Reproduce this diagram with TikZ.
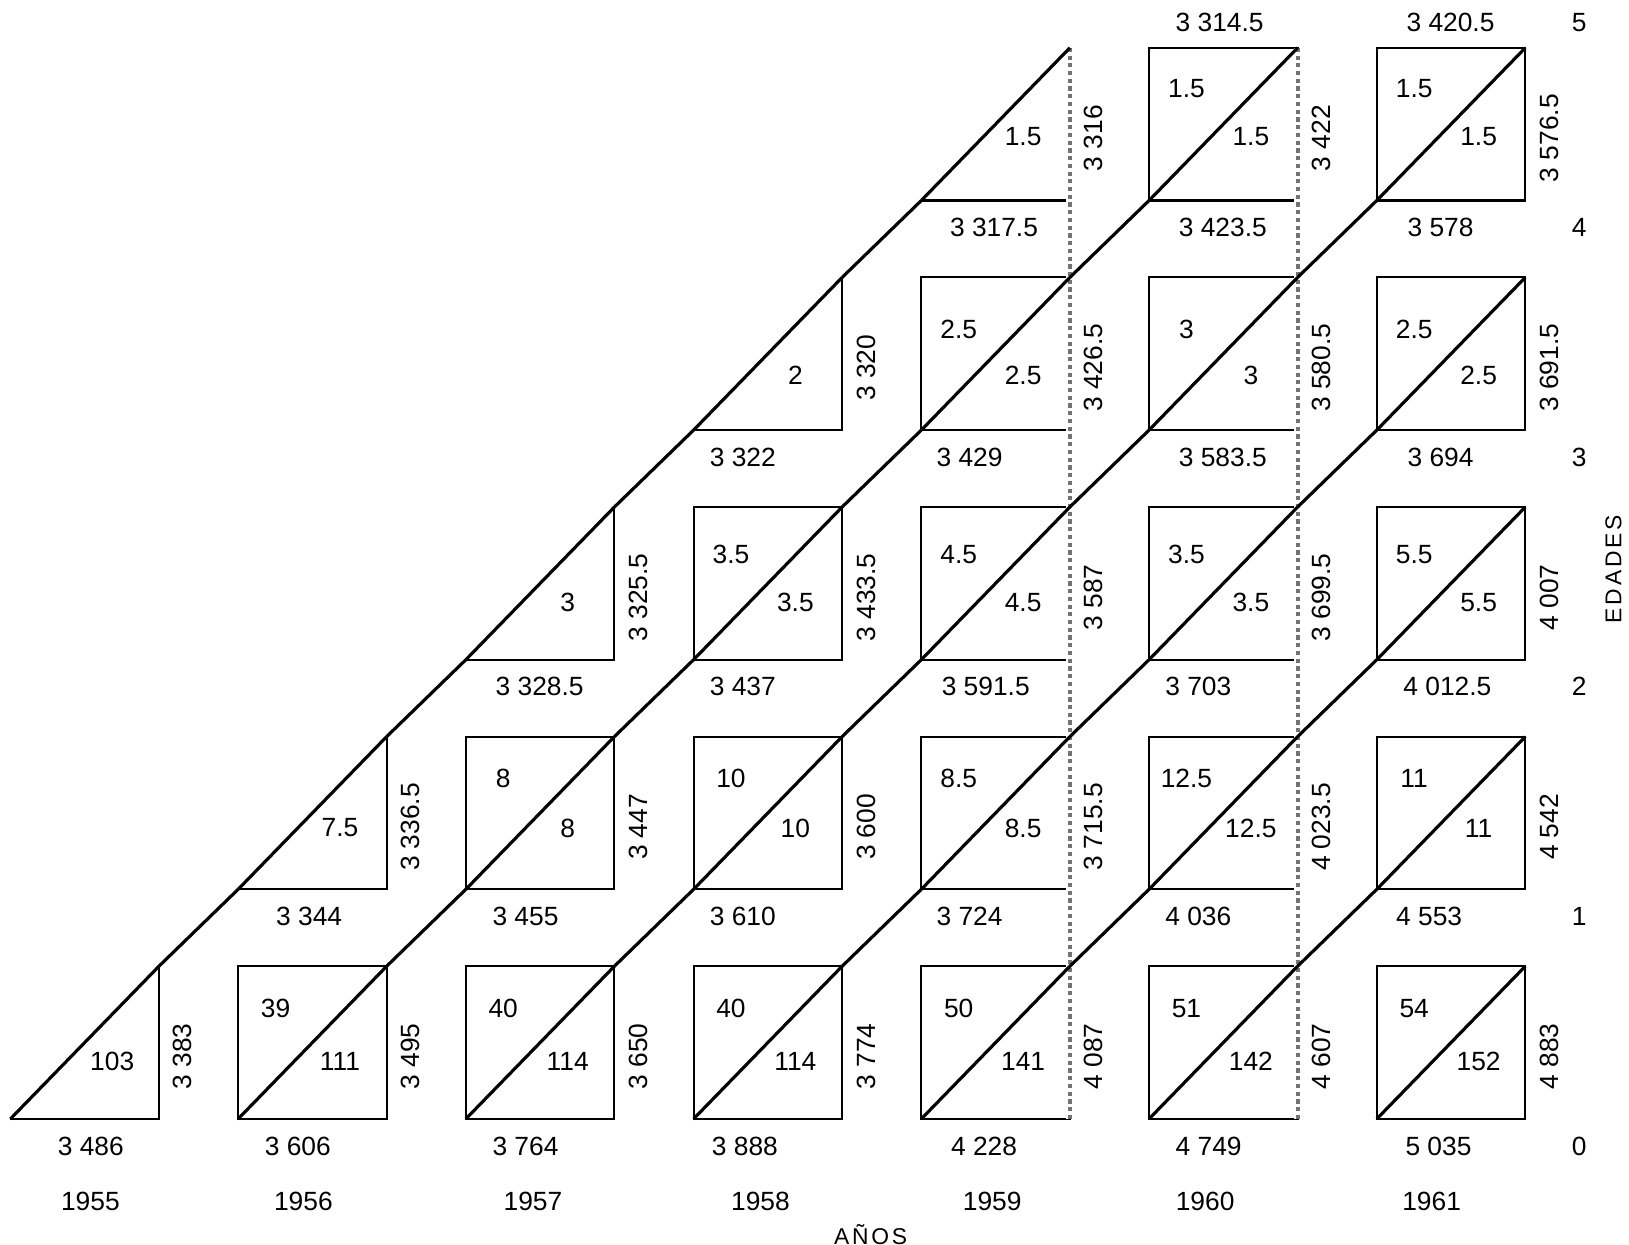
\documentclass[tikz,border=0pt]{standalone}
\usepackage{fontspec}
\setmainfont{Liberation Sans}
\newfontfamily\capsfont[LetterSpace=12]{Liberation Sans}
\usetikzlibrary{calc}

\begin{document}
\begin{tikzpicture}[
    x=0.10389mm, y=-0.10389mm,
    cell/.style={draw=black, line width=0.6pt},
    diag/.style={draw=black, line width=0.9pt},
    sep/.style={draw=black!55, densely dotted, line width=1.2pt},
    num/.style={font=\fontsize{7.5}{9}\selectfont, inner sep=0pt},
    sidenum/.style={num, rotate=90},
    axislbl/.style={font=\capsfont\fontsize{6.5}{7}\selectfont, inner sep=0pt},
  ]
  \useasboundingbox (0,0) rectangle (1568,1198);

  % Cells: triangles on the first diagonal, squares to the right of it
  \foreach \j in {0,...,4}{
    \foreach \i in {\j,...,6}{
      \pgfmathsetmacro\L{10+219.2*\i}
      \pgfmathsetmacro\R{\L+143}
      \pgfmathsetmacro\B{1077-221*\j}
      \pgfmathsetmacro\T{\B-147}
      \ifnum\i=\j
        \draw[cell] (\L,\B) -- (\R,\B) -- (\R,\T);
      \else
        \draw[cell] (\L,\B) rectangle (\R,\T);
      \fi
    }
  }

  % Dotted year separators
  \foreach \i in {4,5}{
    \pgfmathsetmacro\R{10+219.2*\i+143}
    \draw[white, line width=2pt] (\R,46) -- (\R,1077);
    \draw[sep] (\R,46) -- (\R,1077);
  }

  % Life lines
  \foreach \j in {0,...,4}{
    \foreach \i in {\j,...,6}{
      \pgfmathsetmacro\L{10+219.2*\i}
      \pgfmathsetmacro\R{\L+143}
      \pgfmathsetmacro\B{1077-221*\j}
      \pgfmathsetmacro\T{\B-147}
      \draw[diag] (\L,\B) -- (\R,\T);
      \ifnum\i<6 \ifnum\j<4
        \draw[diag] (\R,\T) -- ({\L+219.2},{\B-221});
      \fi\fi
    }
  }

  % Upper-left values
  \foreach \i/\j/\t in {1/0/39, 2/0/40, 3/0/40, 4/0/50, 5/0/51, 6/0/54,
      2/1/8, 3/1/10, 4/1/8.5, 5/1/12.5, 6/1/11,
      3/2/3.5, 4/2/4.5, 5/2/3.5, 6/2/5.5,
      4/3/2.5, 5/3/3, 6/3/2.5,
      5/4/1.5, 6/4/1.5}{
    \pgfmathsetmacro\dy{{41,40,46,50,39}[\j]}
    \node[num] (ul-\i-\j) at ({10+219.2*\i+36},{1077-221*\j-147+\dy}) {\t};
  }

  % Lower-right values
  \foreach \i/\j/\t in {0/0/103, 1/0/111, 2/0/114, 3/0/114, 4/0/141, 5/0/142, 6/0/152,
      1/1/7.5, 2/1/8, 3/1/10, 4/1/8.5, 5/1/12.5, 6/1/11,
      2/2/3, 3/2/3.5, 4/2/4.5, 5/2/3.5, 6/2/5.5,
      3/3/2, 4/3/2.5, 5/3/3, 6/3/2.5,
      4/4/1.5, 5/4/1.5, 6/4/1.5}{
    \pgfmathsetmacro\dy{{55,59,55,53,62}[\j]}
    \node[num] (lr-\i-\j) at ({10+219.2*\i+143-45},{1077-221*\j-\dy}) {\t};
  }

  % Totals on the right-hand side of the cells
  \foreach \i/\j/\t in {0/0/3 383, 1/0/3 495, 2/0/3 650, 3/0/3 774, 4/0/4 087, 5/0/4 607, 6/0/4 883,
      1/1/3 336.5, 2/1/3 447, 3/1/3 600, 4/1/3 715.5, 5/1/4 023.5, 6/1/4 542,
      2/2/3 325.5, 3/2/3 433.5, 4/2/3 587, 5/2/3 699.5, 6/2/4 007,
      3/3/3 320, 4/3/3 426.5, 5/3/3 580.5, 6/3/3 691.5,
      4/4/3 316, 5/4/3 422, 6/4/3 576.5}
    \node[sidenum] (sd-\i-\j) at ({10+219.2*\i+143+23},{1077-221*\j-60}) {\t};

  % Totals under the cells (x shift per label, as typed)
  \foreach \i/\j/\dx/\t in {0/0/20/3 486, 1/0/0/3 606, 2/0/0/3 764, 3/0/-8/3 888, 4/0/3/4 228, 5/0/0/4 749, 6/0/2/5 035,
      1/1/11/3 344, 2/1/0/3 455, 3/1/-10/3 610, 4/1/-11/3 724, 5/1/-10/4 036, 6/1/-7/4 553,
      2/2/3/3 328.5, 3/2/-10/3 437, 4/2/-6/3 591.5, 5/2/-10/3 703, 6/2/0/4 012.5,
      3/3/-10/3 322, 4/3/-11/3 429, 5/3/3/3 583.5, 6/3/4/3 694,
      4/4/2/3 317.5, 5/4/3/3 423.5, 6/4/4/3 578}
    \node[num, anchor=west] (bt-\i-\j) at ({10+219.2*\i+25+\dx},{1077-221*\j+26}) {\t};

  % Totals above the top row
  \node[num, anchor=west] (tp-5) at ({10+219.2*5+25},22) {3 314.5};
  \node[num, anchor=west] (tp-6) at ({10+219.2*6+28},22) {3 420.5};

  % Years
  \foreach \i/\x/\t in {0/87/1955, 1/292/1956, 2/513/1957, 3/732/1958, 4/955/1959, 5/1160/1960, 6/1378/1961}
    \node[num] (yr-\i) at (\x,1156) {\t};

  % Ages
  \foreach \j in {0,...,4}
    \node[num] (age-\j) at (1520,{1103-221*\j}) {\j};
  \node[num] (age-5) at (1520,22) {5};

  % Axis titles
  \node[axislbl] (anos) at (838,1188) {AÑOS};
  \node[axislbl, rotate=90] (edades) at (1553,548) {EDADES};

\end{tikzpicture}
\end{document}
